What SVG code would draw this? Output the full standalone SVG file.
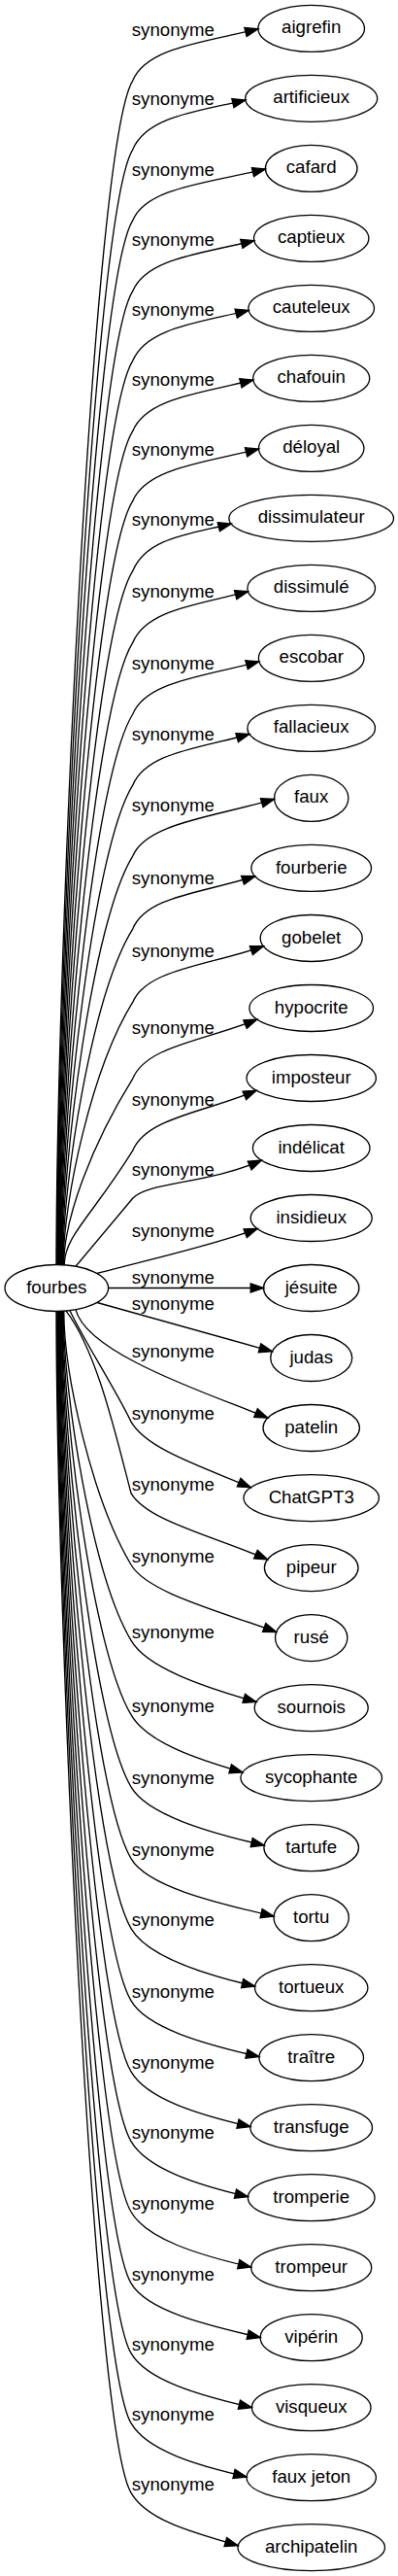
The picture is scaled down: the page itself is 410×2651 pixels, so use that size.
<svg xmlns="http://www.w3.org/2000/svg" width="410" height="2651" viewBox="0 0 410 2651">
<style>
.n ellipse{fill:none;stroke:#000;stroke-width:1.33}
.n text{font-family:"Liberation Sans",Arial,sans-serif;font-size:18.67px;text-anchor:middle;fill:#000}
.e path{fill:none;stroke:#000;stroke-width:1.33;marker-end:url(#ah)}
.e text{font-family:"Liberation Sans",Arial,sans-serif;font-size:18.67px;text-anchor:middle;fill:#000}
</style>
<defs>
<marker id="ah" markerUnits="userSpaceOnUse" markerWidth="16" markerHeight="12" viewBox="0 0 16 12" refX="14" refY="6" orient="auto" overflow="visible">
<path d="M0.67,1.33 L14,6 L0.67,10.67 z" fill="#000" stroke="#000" stroke-width="1.33"/>
</marker>
</defs>
<rect width="410" height="2651" fill="#fff"/>
<g id="edges">
<g class="e" id="e0"><path d="M58,1301.6 C58,996.96 95,150.03 136.7,83.03 C150.7,49.03 209.45,43.7 265.91,29.83"/><text x="178.3" y="36.5">synonyme</text></g>
<g class="e" id="e1"><path d="M58.55,1301.6 C58.55,1014.71 95,221.04 136.7,154.04 C150.7,120.04 201.99,115.06 252.87,103.04"/><text x="178.3" y="107.5">synonyme</text></g>
<g class="e" id="e2"><path d="M59.1,1301.6 C59.1,1032.94 95,293.95 136.7,226.95 C150.7,192.95 213.64,188.52 273.41,173.95"/><text x="178.3" y="180.5">synonyme</text></g>
<g class="e" id="e3"><path d="M59.65,1301.6 C59.65,1051.12 95,366.66 136.7,299.66 C150.7,265.66 207.16,261.27 261.77,247.66"/><text x="178.3" y="253.2">synonyme</text></g>
<g class="e" id="e4"><path d="M60.2,1301.6 C60.2,1069.04 95,438.37 136.7,371.37 C150.7,337.37 203.95,332.28 256.12,319.37"/><text x="178.3" y="324.9">synonyme</text></g>
<g class="e" id="e5"><path d="M60.75,1301.6 C60.75,1087.12 95,510.68 136.7,443.68 C150.7,409.68 206.64,404.59 260.85,391.08"/><text x="178.3" y="397.2">synonyme</text></g>
<g class="e" id="e6"><path d="M61.3,1301.6 C61.3,1105.12 95,582.69 136.7,515.69 C150.7,481.69 209.84,476.22 266.52,462.09"/><text x="178.3" y="469.2">synonyme</text></g>
<g class="e" id="e7"><path d="M61.85,1301.6 C61.85,1123.13 95,654.7 136.7,587.7 C150.7,553.7 193.91,550.05 238.24,539"/><text x="178.3" y="541.2">synonyme</text></g>
<g class="e" id="e8"><path d="M62.4,1301.6 C62.4,1141.55 95,728.41 136.7,661.41 C150.7,627.41 203.84,622.37 255.53,608.71"/><text x="178.3" y="614.9">synonyme</text></g>
<g class="e" id="e9"><path d="M62.95,1301.6 C62.95,1159.96 95,802.02 136.7,735.02 C150.7,701.02 210.45,696.38 266.91,680.72"/><text x="178.3" y="688.5">synonyme</text></g>
<g class="e" id="e10"><path d="M63.5,1301.6 C63.5,1178.23 95,875.13 136.7,808.13 C150.7,774.13 204.95,770.35 256.99,755.43"/><text x="178.3" y="761.6">synonyme</text></g>
<g class="e" id="e11"><path d="M64.05,1301.6 C64.05,1196.46 95,948.04 136.7,881.04 C150.7,847.04 219.58,840.96 282.53,822.44"/><text x="178.3" y="834.5">synonyme</text></g>
<g class="e" id="e12"><path d="M64.6,1301.6 C64.6,1215.21 95,1023.05 136.7,956.05 C150.7,922.05 208.73,919.08 262.71,901.75"/><text x="178.3" y="909.5">synonyme</text></g>
<g class="e" id="e13"><path d="M65.15,1301.6 C65.15,1234.07 95,1098.46 136.7,1031.46 C150.7,997.46 214.22,993.8 271.44,973.76"/><text x="178.3" y="985">synonyme</text></g>
<g class="e" id="e14"><path d="M65.7,1301.6 C65.7,1253.72 95,1177.07 136.7,1110.07 C150.7,1076.07 211.49,1070.96 264.85,1049.07"/><text x="178.3" y="1063.6">synonyme</text></g>
<g class="e" id="e15"><path d="M66.25,1301.6 C66.25,1272.25 95,1251.18 136.7,1184.18 C150.7,1150.18 211.41,1144.76 264.1,1122.18"/><text x="178.3" y="1137.7">synonyme</text></g>
<g class="e" id="e16"><path d="M78,1303.2 C90,1289 120,1253 136.7,1233.3 C151.7,1216.3 214.84,1218.38 269.38,1194.1"/><text x="178.3" y="1209.6">synonyme</text></g>
<g class="e" id="e17"><path d="M100,1310.5 C150,1297 218.3,1282.1 265.15,1264.5"/><text x="178.3" y="1272.7">synonyme</text></g>
<g class="e" id="e18"><path d="M111.6,1325.51 L271.5,1325.51"/><text x="178.3" y="1321">synonyme</text></g>
<g class="e" id="e19"><path d="M100,1340.5 L280.37,1390.8"/><text x="178.3" y="1348">synonyme</text></g>
<g class="e" id="e20"><path d="M78,1347.8 C90,1395 225.18,1437.71 275.81,1459.2"/><text x="178.3" y="1396.7">synonyme</text></g>
<g class="e" id="e21"><path d="M72,1348.7 C84,1375 122,1435 135,1463.14 C151,1491.14 207.28,1509.12 258.37,1530.8"/><text x="178.3" y="1460.6">synonyme</text></g>
<g class="e" id="e22"><path d="M68,1349.1 C100,1390 120,1480 135,1536.55 C151,1564.55 217.41,1580.12 275.68,1604.85"/><text x="178.3" y="1534">synonyme</text></g>
<g class="e" id="e23"><path d="M65.8,1349.3 C65.8,1414.5 95,1543.26 135,1610.26 C151,1638.26 221.38,1656.52 284.68,1679.56"/><text x="178.3" y="1607.8">synonyme</text></g>
<g class="e" id="e24"><path d="M65.2,1349.4 C65.2,1434.14 95,1621.17 135,1688.17 C151,1716.17 208.23,1735.56 264.06,1751.57"/><text x="178.3" y="1685.7">synonyme</text></g>
<g class="e" id="e25"><path d="M64.6,1349.4 C64.6,1453.25 95,1697.58 135,1764.58 C151,1792.58 200.24,1809.62 249.98,1823.88"/><text x="178.3" y="1762.1">synonyme</text></g>
<g class="e" id="e26"><path d="M64,1349.4 C64,1471.82 95,1771.89 135,1838.89 C151,1866.89 212.02,1885.2 272.17,1899.09"/><text x="178.3" y="1836.4">synonyme</text></g>
<g class="e" id="e27"><path d="M63.4,1349.5 C63.4,1490.25 95,1845.6 135,1912.6 C151,1940.6 217.58,1957.21 282.08,1972.1"/><text x="178.3" y="1910.1">synonyme</text></g>
<g class="e" id="e28"><path d="M62.8,1349.5 C62.8,1508.25 95,1917.61 135,1984.61 C151,2012.61 206.66,2031.19 262.61,2044.11"/><text x="178.3" y="1982.1">synonyme</text></g>
<g class="e" id="e29"><path d="M62.2,1349.5 C62.2,1526.83 95,1991.92 135,2058.92 C151,2086.92 209.09,2103.26 266.95,2116.62"/><text x="178.3" y="2056.4">synonyme</text></g>
<g class="e" id="e30"><path d="M61.6,1349.5 C61.6,1545.08 95,2064.93 135,2131.93 C151,2159.93 204.05,2176.18 257.96,2188.63"/><text x="178.3" y="2129.4">synonyme</text></g>
<g class="e" id="e31"><path d="M61,1349.5 C61,1563.01 95,2136.64 135,2203.64 C151,2231.64 202.64,2248.44 255.46,2260.64"/><text x="178.3" y="2201.1">synonyme</text></g>
<g class="e" id="e32"><path d="M60.4,1349.5 C60.4,1581.16 95,2209.25 135,2276.25 C151,2304.25 204.46,2320.62 258.7,2333.15"/><text x="178.3" y="2273.7">synonyme</text></g>
<g class="e" id="e33"><path d="M59.8,1349.5 C59.8,1599.52 95,2282.66 135,2349.66 C151,2377.66 209.79,2392.17 268.2,2405.66"/><text x="178.3" y="2347.2">synonyme</text></g>
<g class="e" id="e34"><path d="M59.2,1349.5 C59.2,1617.52 95,2354.67 135,2421.67 C151,2449.67 204.85,2465.07 259.4,2477.67"/><text x="178.3" y="2419.2">synonyme</text></g>
<g class="e" id="e35"><path d="M58.6,1349.5 C58.6,1635.52 95,2426.68 135,2493.68 C151,2521.68 201.82,2536.93 254,2548.98"/><text x="178.3" y="2491.2">synonyme</text></g>
<g class="e" id="e36"><path d="M58,1349.5 C58,1653.45 95,2498.39 135,2565.39 C151,2593.39 197.51,2606.03 245.16,2619.69"/><text x="178.3" y="2562.9">synonyme</text></g>
</g>
<g id="nodes">
<g class="n" id="n_fourbes"><ellipse cx="58.3" cy="1325.51" rx="53.3" ry="24"/><text x="58.3" y="1330.5">fourbes</text></g>
<g class="n" id="n_aigrefin"><ellipse cx="320.7" cy="29.33" rx="54.8" ry="24"/><text x="320.7" y="34.3">aigrefin</text></g>
<g class="n" id="n_artificieux"><ellipse cx="320.7" cy="101.34" rx="68" ry="24"/><text x="320.7" y="106.3">artificieux</text></g>
<g class="n" id="n_cafard"><ellipse cx="320.7" cy="173.35" rx="47.3" ry="24"/><text x="320.7" y="178.3">cafard</text></g>
<g class="n" id="n_captieux"><ellipse cx="320.7" cy="245.36" rx="59.2" ry="24"/><text x="320.7" y="250.4">captieux</text></g>
<g class="n" id="n_cauteleux"><ellipse cx="320.7" cy="317.37" rx="64.8" ry="24"/><text x="320.7" y="322.4">cauteleux</text></g>
<g class="n" id="n_chafouin"><ellipse cx="320.7" cy="389.38" rx="60" ry="24"/><text x="320.7" y="394.4">chafouin</text></g>
<g class="n" id="n_deloyal"><ellipse cx="320.7" cy="461.39" rx="54.2" ry="24"/><text x="320.7" y="466.4">déloyal</text></g>
<g class="n" id="n_dissimulateur"><ellipse cx="320.7" cy="533.4" rx="84.8" ry="24"/><text x="320.7" y="538.4">dissimulateur</text></g>
<g class="n" id="n_dissimule"><ellipse cx="320.7" cy="605.41" rx="65.8" ry="24"/><text x="320.7" y="610.4">dissimulé</text></g>
<g class="n" id="n_escobar"><ellipse cx="320.7" cy="677.42" rx="54.3" ry="24"/><text x="320.7" y="682.4">escobar</text></g>
<g class="n" id="n_fallacieux"><ellipse cx="320.7" cy="749.43" rx="65.8" ry="24"/><text x="320.7" y="754.4">fallacieux</text></g>
<g class="n" id="n_faux"><ellipse cx="320.7" cy="821.44" rx="38.2" ry="24"/><text x="320.7" y="826.4">faux</text></g>
<g class="n" id="n_fourberie"><ellipse cx="320.7" cy="893.45" rx="61.8" ry="24"/><text x="320.7" y="898.5">fourberie</text></g>
<g class="n" id="n_gobelet"><ellipse cx="320.7" cy="965.46" rx="52.5" ry="24"/><text x="320.7" y="970.5">gobelet</text></g>
<g class="n" id="n_hypocrite"><ellipse cx="320.7" cy="1037.47" rx="63.8" ry="24"/><text x="320.7" y="1042.5">hypocrite</text></g>
<g class="n" id="n_imposteur"><ellipse cx="320.7" cy="1109.48" rx="66.7" ry="24"/><text x="320.7" y="1114.5">imposteur</text></g>
<g class="n" id="n_indelicat"><ellipse cx="320.7" cy="1181.49" rx="60.3" ry="24"/><text x="320.7" y="1186.5">indélicat</text></g>
<g class="n" id="n_insidieux"><ellipse cx="320.7" cy="1253.5" rx="62.5" ry="24"/><text x="320.7" y="1258.5">insidieux</text></g>
<g class="n" id="n_jesuite"><ellipse cx="320.7" cy="1325.51" rx="49.2" ry="24"/><text x="320.7" y="1330.5">jésuite</text></g>
<g class="n" id="n_judas"><ellipse cx="320.7" cy="1397.52" rx="42" ry="24"/><text x="320.7" y="1402.5">judas</text></g>
<g class="n" id="n_patelin"><ellipse cx="320.7" cy="1469.53" rx="49.7" ry="24"/><text x="320.7" y="1474.5">patelin</text></g>
<g class="n" id="n_chatgpt3"><ellipse cx="320.7" cy="1541.54" rx="69.7" ry="24"/><text x="320.7" y="1546.5">ChatGPT3</text></g>
<g class="n" id="n_pipeur"><ellipse cx="320.7" cy="1613.55" rx="48.3" ry="24"/><text x="320.7" y="1618.6">pipeur</text></g>
<g class="n" id="n_ruse"><ellipse cx="320.7" cy="1685.56" rx="37.2" ry="24"/><text x="320.7" y="1690.6">rusé</text></g>
<g class="n" id="n_sournois"><ellipse cx="320.7" cy="1757.57" rx="58.5" ry="24"/><text x="320.7" y="1762.6">sournois</text></g>
<g class="n" id="n_sycophante"><ellipse cx="320.7" cy="1829.58" rx="72.8" ry="24"/><text x="320.7" y="1834.6">sycophante</text></g>
<g class="n" id="n_tartufe"><ellipse cx="320.7" cy="1901.59" rx="48.8" ry="24"/><text x="320.7" y="1906.6">tartufe</text></g>
<g class="n" id="n_tortu"><ellipse cx="320.7" cy="1973.6" rx="38.7" ry="24"/><text x="320.7" y="1978.6">tortu</text></g>
<g class="n" id="n_tortueux"><ellipse cx="320.7" cy="2045.61" rx="58.2" ry="24"/><text x="320.7" y="2050.6">tortueux</text></g>
<g class="n" id="n_traitre"><ellipse cx="320.7" cy="2117.62" rx="53.8" ry="24"/><text x="320.7" y="2122.6">traître</text></g>
<g class="n" id="n_transfuge"><ellipse cx="320.7" cy="2189.63" rx="62.8" ry="24"/><text x="320.7" y="2194.6">transfuge</text></g>
<g class="n" id="n_tromperie"><ellipse cx="320.7" cy="2261.64" rx="65.3" ry="24"/><text x="320.7" y="2266.6">tromperie</text></g>
<g class="n" id="n_trompeur"><ellipse cx="320.7" cy="2333.65" rx="62" ry="24"/><text x="320.7" y="2338.7">trompeur</text></g>
<g class="n" id="n_viperin"><ellipse cx="320.7" cy="2405.66" rx="52.5" ry="24"/><text x="320.7" y="2410.7">vipérin</text></g>
<g class="n" id="n_visqueux"><ellipse cx="320.7" cy="2477.67" rx="61.3" ry="24"/><text x="320.7" y="2482.7">visqueux</text></g>
<g class="n" id="n_fauxjeton"><ellipse cx="320.7" cy="2549.68" rx="66.7" ry="24"/><text x="320.7" y="2554.7">faux jeton</text></g>
<g class="n" id="n_archipatelin"><ellipse cx="320.7" cy="2621.69" rx="75.8" ry="24"/><text x="320.7" y="2626.7">archipatelin</text></g>
</g>
</svg>
